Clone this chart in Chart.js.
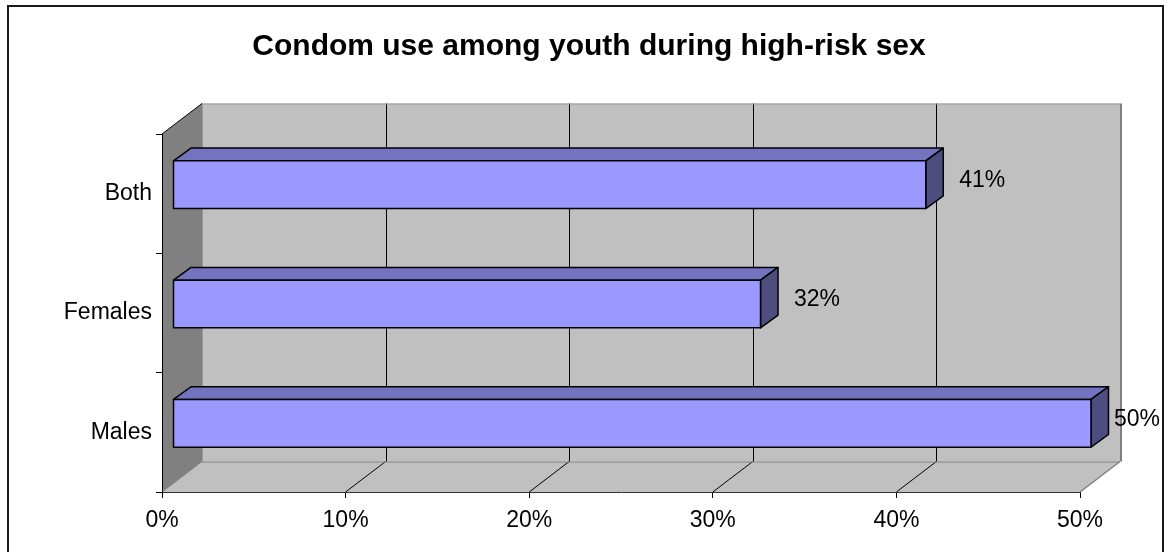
<!DOCTYPE html>
<html>
<head>
<meta charset="utf-8">
<script src="https://cdn.jsdelivr.net/npm/chart.js@4.4.1/dist/chart.umd.min.js"></script>
<style>
    body { margin: 0; background: #fff; }
    canvas { display: block; }
</style>
</head>
<body>
<canvas id="condomChart" width="1168" height="552"></canvas>
<script>
const categories = ['Both', 'Females', 'Males'];
const shares = [41, 32, 50];
const xTicks = [0, 10, 20, 30, 40, 50];
const titleText = 'Condom use among youth during high-risk sex';

const FONT = '"Liberation Sans", Arial, sans-serif';

// oblique offsets for the box walls and for the front/back faces of each bar
const wallDepth = { x: 40, y: -30.5 };
const barFront = { x: 11, y: -9 };
const barBack = { x: 28.5, y: -21.7 };

function poly(ctx, pts, fill, stroke, width) {
    ctx.beginPath();
    ctx.moveTo(pts[0][0], pts[0][1]);
    for (let i = 1; i < pts.length; i++) ctx.lineTo(pts[i][0], pts[i][1]);
    ctx.closePath();
    if (fill) { ctx.fillStyle = fill; ctx.fill(); }
    if (stroke) { ctx.strokeStyle = stroke; ctx.lineWidth = width || 1; ctx.stroke(); }
}

function line(ctx, x1, y1, x2, y2, color, width) {
    ctx.beginPath();
    ctx.moveTo(x1, y1);
    ctx.lineTo(x2, y2);
    ctx.strokeStyle = color;
    ctx.lineWidth = width || 1;
    ctx.stroke();
}

const box3d = {
    id: 'box3d',
    beforeDraw(chart) {
        const ctx = chart.ctx;
        const area = chart.chartArea;
        const xs = chart.scales.x;
        const L = area.left, R = area.right, T = area.top, B = area.bottom;
        const dx = wallDepth.x, dy = wallDepth.y;

        ctx.save();
        ctx.fillStyle = '#fff';
        ctx.fillRect(0, 0, chart.width, chart.height);

        // outer frame
        ctx.strokeStyle = '#1a1a1a';
        ctx.lineWidth = 2;
        ctx.strokeRect(8, 6, 1155, 560);

        // title
        ctx.fillStyle = '#000';
        ctx.font = 'bold 30px ' + FONT;
        ctx.textAlign = 'center';
        ctx.textBaseline = 'alphabetic';
        ctx.fillText(titleText, 589, 55);

        // back wall
        poly(ctx, [[L + dx, T + dy], [R + dx, T + dy], [R + dx, B + dy], [L + dx, B + dy]], '#c0c0c0');
        // left wall
        poly(ctx, [[L, T], [L + dx, T + dy], [L + dx, B + dy], [L, B]], '#808080');
        // floor
        poly(ctx, [[L, B], [L + dx, B + dy], [R + dx, B + dy], [R, B]], '#c0c0c0');

        // grid lines across the back wall and the floor
        xs.ticks.forEach(t => {
            const px = xs.getPixelForValue(t.value);
            if (px <= L + 0.5 || px >= R - 0.5) return;
            const gx = Math.round(px + dx) + 0.5;
            line(ctx, gx, T + dy, gx, B + dy, '#000', 1);
            line(ctx, px, B, px + dx, B + dy, '#000', 1);
        });

        // wall and floor edges
        line(ctx, L + dx, T + dy + 0.5, R + dx, T + dy + 0.5, '#999', 1);
        line(ctx, R + dx + 1, T + dy, R + dx + 1, B + dy, '#808080', 2);
        line(ctx, L + dx + 0.5, T + dy, L + dx + 0.5, B + dy, '#999', 1);
        line(ctx, L + dx, B + dy + 0.5, R + dx, B + dy + 0.5, '#808080', 1);
        line(ctx, L, B, L + dx, B + dy, '#808080', 1);
        line(ctx, R, B, R + dx, B + dy, '#808080', 1.5);
        line(ctx, L, T, L + dx, T + dy, '#000', 1);
        ctx.restore();
    },
    afterDatasetsDraw(chart) {
        const ctx = chart.ctx;
        const meta = chart.getDatasetMeta(0);
        const values = chart.data.datasets[0].data;
        const bx = barBack.x - barFront.x, by = barBack.y - barFront.y;

        ctx.save();
        ctx.lineJoin = 'round';
        meta.data.forEach((bar, i) => {
            const x0 = bar.base + barFront.x;
            const x1 = bar.x + barFront.x;
            const y0 = bar.y - bar.height / 2 + barFront.y;
            const y1 = bar.y + bar.height / 2 + barFront.y;

            // top face, end face, front face
            poly(ctx, [[x0, y0], [x0 + bx, y0 + by], [x1 + bx, y0 + by], [x1, y0]], '#7373bf', '#000', 1.5);
            poly(ctx, [[x1, y0], [x1 + bx, y0 + by], [x1 + bx, y1 + by], [x1, y1]], '#4d4d80', '#000', 1.5);
            poly(ctx, [[x0, y0], [x1, y0], [x1, y1], [x0, y1]], '#9999ff', '#000', 1.5);

            // value label beside the bar end, kept inside the frame
            const text = values[i] + '%';
            ctx.font = '23px ' + FONT;
            ctx.fillStyle = '#000';
            ctx.textAlign = 'left';
            ctx.textBaseline = 'middle';
            const w = ctx.measureText(text).width;
            const lx = Math.min(x1 + bx + 16, 1160 - w);
            ctx.fillText(text, lx, bar.y - 13);
        });
        ctx.restore();
    }
};

const ctx = document.getElementById('condomChart').getContext('2d');
const condomChart = new Chart(ctx, {
    type: 'bar',
    data: {
        labels: categories,
        datasets: [{
            label: 'Condom use',
            data: shares,
            backgroundColor: 'rgba(0,0,0,0)',
            borderWidth: 0,
            barPercentage: 0.4,
            categoryPercentage: 1
        }]
    },
    options: {
        indexAxis: 'y',
        responsive: false,
        animation: false,
        devicePixelRatio: 1,
        layout: { padding: { top: 134, right: 88, left: 0, bottom: 0 } },
        scales: {
            x: {
                min: xTicks[0],
                max: xTicks[xTicks.length - 1],
                afterBuildTicks: scale => {
                    scale.ticks = xTicks.map(v => ({ value: v }));
                },
                afterFit: scale => { scale.height = 60; },
                grid: {
                    drawOnChartArea: false,
                    drawTicks: true,
                    tickLength: 6,
                    color: '#000'
                },
                border: { color: '#333', width: 1 },
                ticks: {
                    color: '#000',
                    padding: 9,
                    font: { family: FONT, size: 23 },
                    callback: v => v + '%'
                }
            },
            y: {
                afterFit: scale => { scale.width = 162; },
                grid: {
                    offset: true,
                    drawOnChartArea: false,
                    drawTicks: true,
                    tickLength: 6,
                    color: '#000'
                },
                border: { color: '#000', width: 1 },
                ticks: {
                    color: '#000',
                    padding: 4,
                    font: { family: FONT, size: 23 }
                }
            }
        },
        plugins: {
            legend: { display: false },
            title: { display: false },
            tooltip: { enabled: false }
        }
    },
    plugins: [box3d]
});
</script>
</body>
</html>
